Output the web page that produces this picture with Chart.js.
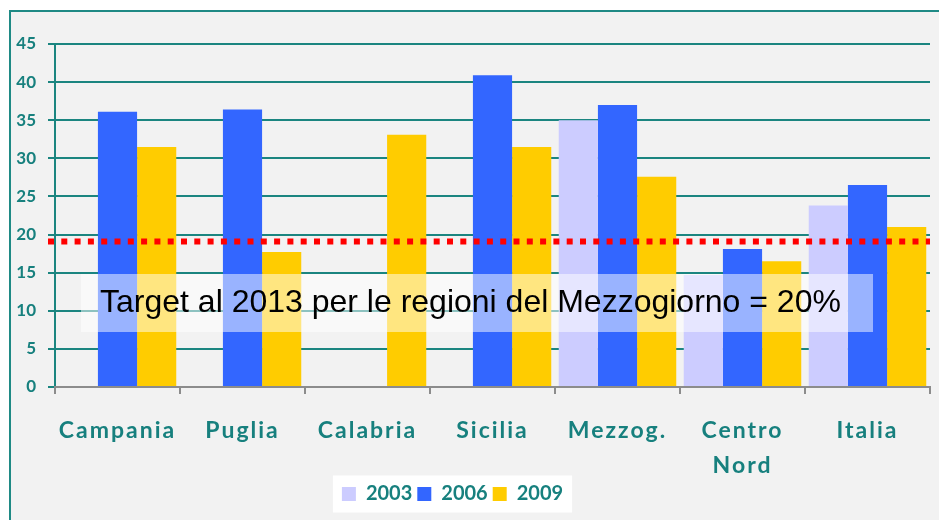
<!DOCTYPE html>
<html>
<head>
<meta charset="utf-8">
<script src="https://cdn.jsdelivr.net/npm/chart.js"></script>
<style>
  html, body { margin: 0; padding: 0; background: #ffffff; overflow: hidden; }
  #frame { position: absolute; left: 9px; top: 10px; width: 1000px; height: 600px; background: #f2f2f2; border-left: 2px solid #1f8a85; border-top: 2px solid #1f8a85; }
  #wrap { position: absolute; left: -40px; top: 0; width: 979px; height: 520px; }
</style>
</head>
<body>
<div id="frame"></div>
<div id="wrap"><canvas id="chart"></canvas></div>
<script>
const regions = ['Campania', 'Puglia', 'Calabria', 'Sicilia', 'Mezzog.', ['Centro', 'Nord'], 'Italia']
const years = ['2003', '2006', '2009']
const values2003 = [null, null, null, null, 35.0, 14.7, 23.8]
const values2006 = [36.1, 36.4, null, 40.9, 37.0, 18.1, 26.5]
const values2009 = [31.5, 17.7, 33.1, 31.5, 27.6, 16.5, 21.0]
const targetLevel = 19.1
const targetText = 'Target al 2013 per le regioni del Mezzogiorno = 20%'

const teal = '#17807e'
const gridTeal = '#1b8580'

const overlay = {
  id: 'overlay',
  beforeDraw (chart) {
    // white panel behind the legend
    const boxes = chart.legend.legendHitBoxes
    if (!boxes || !boxes.length) return
    const first = boxes[0]
    const last = boxes[boxes.length - 1]
    const cy = first.top + first.height / 2
    const ctx = chart.ctx
    ctx.save()
    ctx.fillStyle = '#ffffff'
    ctx.fillRect(first.left - 9, cy - 18.5, last.left + last.width - first.left + 18, 37)
    ctx.restore()
  },
  afterDatasetsDraw (chart) {
    const { ctx, chartArea, scales } = chart
    const y = scales.y.getPixelForValue(targetLevel)
    ctx.save()
    ctx.strokeStyle = '#ff0000'
    ctx.lineWidth = 6
    ctx.setLineDash([6, 7.3])
    ctx.beginPath()
    ctx.moveTo(chartArea.left - 7, y)
    ctx.lineTo(chartArea.right, y)
    ctx.stroke()
    ctx.setLineDash([])

    // translucent label box
    const bx = chartArea.left + 26
    const bw = 792
    const by = 274
    const bh = 58
    ctx.fillStyle = 'rgba(255,255,255,0.5)'
    ctx.fillRect(bx, by, bw, bh)
    ctx.fillStyle = '#000000'
    ctx.font = '32px "Liberation Sans", Arial, sans-serif'
    ctx.textBaseline = 'middle'
    ctx.textAlign = 'left'
    ctx.fillText(targetText, bx + 19, by + bh / 2)
    ctx.restore()
    // x labels (drawn after this hook) are spaced out
    ctx.letterSpacing = '2px'
  },
  afterDraw (chart) {
    chart.ctx.letterSpacing = '0px'
  }
}

new Chart(document.getElementById('chart').getContext('2d'), {
  type: 'bar',
  data: {
    labels: regions,
    datasets: [
      { label: years[0], data: values2003, backgroundColor: '#ccccff', borderWidth: 0 },
      { label: years[1], data: values2006, backgroundColor: '#3366ff', borderWidth: 0 },
      { label: years[2], data: values2009, backgroundColor: '#ffcc00', borderWidth: 0 }
    ]
  },
  options: {
    responsive: true,
    maintainAspectRatio: false,
    animation: false,
    categoryPercentage: 0.94,
    barPercentage: 1.0,
    layout: { padding: { left: 15, right: 9, top: 44, bottom: 6 } },
    scales: {
      y: {
        min: 0,
        max: 45,
        afterFit: (scale) => { scale.width = 80 },
        border: { display: true, color: gridTeal, width: 2 },
        grid: { color: gridTeal, lineWidth: 2, tickLength: 7, tickColor: gridTeal },
        ticks: {
          stepSize: 5,
          padding: 12,
          color: teal,
          font: { family: 'Lato', weight: 'bold', size: 17 }
        }
      },
      x: {
        afterFit: (scale) => { scale.height = 92 },
        border: { display: true, color: '#8c8c8c', width: 2 },
        grid: { drawOnChartArea: false, drawTicks: true, tickLength: 7, color: '#8c8c8c', lineWidth: 2 },
        ticks: {
          z: 1,
          padding: 19,
          maxRotation: 0,
          autoSkip: false,
          color: teal,
          font: { family: 'Lato', weight: 'bold', size: 23, lineHeight: 1.52 }
        }
      }
    },
    plugins: {
      tooltip: { enabled: false },
      legend: {
        display: true,
        position: 'bottom',
        labels: {
          boxWidth: 14,
          boxHeight: 14,
          padding: 5,
          color: teal,
          font: { family: 'Lato', weight: 'bold', size: 20 }
        }
      }
    }
  },
  plugins: [overlay]
})
</script>
</body>
</html>
